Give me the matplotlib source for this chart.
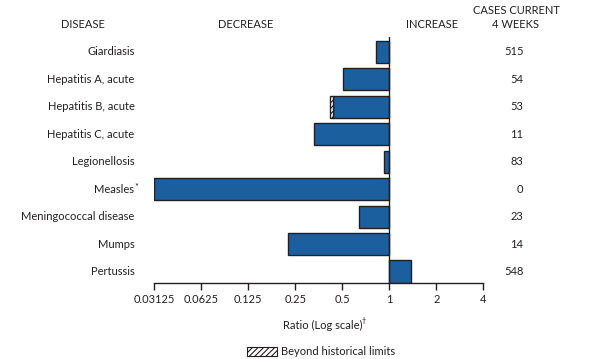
import matplotlib
matplotlib.use("Agg")
import matplotlib.pyplot as plt
import numpy as np

plt.rcParams['font.family'] = ['Lato', 'DejaVu Sans']
plt.rcParams['hatch.linewidth'] = 0.8

diseases = ["Giardiasis", "Hepatitis A, acute", "Hepatitis B, acute", "Hepatitis C, acute",
            "Legionellosis", "Measles*", "Meningococcal disease", "Mumps", "Pertussis"]
ratios = [0.825, 0.507, 0.438, 0.331, 0.929, 0.03125, 0.642, 0.225, 1.371]
beyond = [None, None, 0.419, None, None, None, None, None, None]
cases = ["515", "54", "53", "11", "83", "0", "23", "14", "548"]
tick_vals = [0.03125, 0.0625, 0.125, 0.25, 0.5, 1, 2, 4]
tick_labels = ["0.03125", "0.0625", "0.125", "0.25", "0.5", "1", "2", "4"]

bar_color = "#1b5f9e"
edge = "#231f20"
txt = "#231f20"

fig = plt.figure(figsize=(5.96, 3.59), dpi=100)
ax = fig.add_axes([0.2589, 0.2125, 0.8109 - 0.2589, 0.8978 - 0.2125])
ax.set_xscale('log', base=2)

y = np.arange(len(diseases))
h = 0.81
for i, v in enumerate(ratios):
    if v < 1:
        ax.barh(i, 1 - v, left=v, height=h, color=bar_color, edgecolor=edge, linewidth=1.0)
    else:
        ax.barh(i, v - 1, left=1, height=h, color=bar_color, edgecolor=edge, linewidth=1.0)
    b = beyond[i]
    if b is not None:
        ax.barh(i, v - b, left=b, height=h, color="white", edgecolor=edge, linewidth=1.0,
                hatch="//////")

ax.axvline(1, color=edge, linewidth=1.0, zorder=5)
ax.set_xlim(0.03125, 4)
ax.set_ylim(len(diseases) - 1 + h / 2, -0.55)

for s in ["top", "right", "left"]:
    ax.spines[s].set_visible(False)
ax.spines["bottom"].set_color(edge)
ax.spines["bottom"].set_linewidth(1.0)
ax.set_yticks([])
ax.set_xticks(tick_vals)
ax.set_xticklabels(tick_labels)
ax.minorticks_off()
ax.tick_params(axis='x', length=5, width=1.0, color=edge, labelsize=8, labelcolor=txt, pad=3)

# disease labels and counts
for i, (d, c) in enumerate(zip(diseases, cases)):
    yy = ax.transData.transform((1, i))[1]
    yf = fig.transFigure.inverted().transform((0, yy))[1]
    if d.endswith("*"):
        fig.text(134.0 / 596, yf, d[:-1], ha='right', va='center', fontsize=8, color=txt)
        fig.text(134.3 / 596, yf + 0.006, "*", ha='left', va='center', fontsize=6.5, color=txt)
    else:
        fig.text(134.5 / 596, yf, d, ha='right', va='center', fontsize=8, color=txt)
    fig.text(523.5 / 596, yf, c, ha='right', va='center', fontsize=8, color=txt)

# headers
def fy(py):
    return 1 - py / 359

fig.text(83 / 596, fy(24), "DISEASE", ha='center', va='center', fontsize=8, color=txt)
fig.text(246 / 596, fy(24), "DECREASE", ha='center', va='center', fontsize=8, color=txt)
fig.text(432 / 596, fy(24), "INCREASE", ha='center', va='center', fontsize=8, color=txt)
fig.text(516 / 596, fy(10), "CASES CURRENT", ha='center', va='center', fontsize=8, color=txt)
fig.text(516 / 596, fy(24), "4 WEEKS", ha='center', va='center', fontsize=8, color=txt)

# x label
fig.text(323 / 596, fy(325), "Ratio (Log scale)", ha='center', va='center', fontsize=8, color=txt)
fig.text(362 / 596, fy(321), "\u2020", ha='left', va='center', fontsize=5, color=txt)

# legend
from matplotlib.patches import Rectangle
fig.patches.append(Rectangle((247 / 596, fy(356)), 30 / 596, 9 / 359, transform=fig.transFigure,
                             facecolor='white', edgecolor=edge, linewidth=0.8, hatch="//////"))
fig.text(281 / 596, fy(351.5), "Beyond historical limits", ha='left', va='center', fontsize=8, color=txt)

fig.savefig("out.png", dpi=100)
